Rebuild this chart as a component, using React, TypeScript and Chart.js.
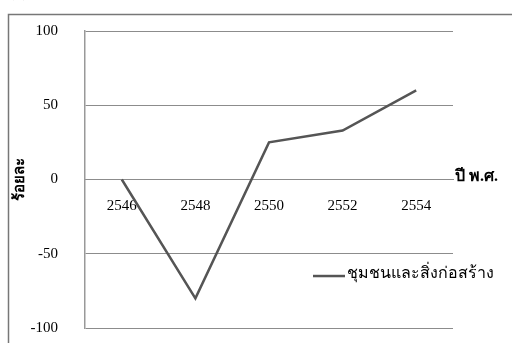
import React, { useEffect, useRef } from "react";
import { Chart, registerables } from "chart.js";

Chart.register(...registerables);

const categories = ["2546", "2548", "2550", "2552", "2554"];
const seriesValues = [0, -80, 25, 33, 60];
const seriesLabel = "ชุมชนและสิ่งก่อสร้าง";
const yTitle = "ร้อยละ";
const xTitle = "ปี พ.ศ.";
const panelLabel = "(ก)";
const yMin = -100;
const yMax = 100;
const yStep = 50;

const FONT = "'Liberation Serif', 'Times New Roman', serif";
const LINE_COLOR = "#555555";
const GRID_COLOR = "#8c8c8c";

const decorPlugin = {
  id: "decor",
  beforeDraw(chart: any) {
    const ctx = chart.ctx;
    ctx.save();
    ctx.fillStyle = "#ffffff";
    ctx.fillRect(0, 0, chart.width, chart.height);
    ctx.strokeStyle = "#777777";
    ctx.lineWidth = 1.5;
    ctx.strokeRect(8.5, 14.5, 700, 500);
    ctx.fillStyle = "#000000";
    ctx.font = `15px ${FONT}`;
    ctx.textBaseline = "alphabetic";
    ctx.textAlign = "left";
    ctx.fillText(panelLabel, 9, -3);
    ctx.restore();
  },
  afterDraw(chart: any) {
    const ctx = chart.ctx;
    const y = chart.scales.y;
    const area = chart.chartArea;
    ctx.save();
    ctx.fillStyle = "#000000";
    ctx.font = `bold 16px ${FONT}`;
    ctx.textAlign = "left";
    ctx.textBaseline = "middle";
    ctx.fillText(xTitle, area.right + 2, y.getPixelForValue(0) - 3);
    const ds = chart.data.datasets[0];
    const ly = y.getPixelForValue(-65);
    ctx.strokeStyle = ds.borderColor;
    ctx.lineWidth = 2.5;
    ctx.beginPath();
    ctx.moveTo(313, ly);
    ctx.lineTo(345, ly);
    ctx.stroke();
    ctx.font = `16px ${FONT}`;
    ctx.fillText(ds.label, 347, ly - 2);
    ctx.restore();
  },
};

export default function App() {
  const ref = useRef<HTMLCanvasElement | null>(null);

  useEffect(() => {
    document.body.style.margin = "0";
    const canvas = ref.current;
    if (!canvas) return;
    const chart = new Chart(canvas, {
      type: "line",
      data: {
        labels: categories,
        datasets: [
          {
            label: seriesLabel,
            data: seriesValues,
            borderColor: LINE_COLOR,
            backgroundColor: LINE_COLOR,
            borderWidth: 2.5,
            pointRadius: 0,
            tension: 0,
          },
        ],
      },
      options: {
        animation: false,
        responsive: false,
        maintainAspectRatio: false,
        layout: { padding: { left: 0, top: 31, right: 59, bottom: 15 } },
        plugins: {
          legend: { display: false },
          tooltip: { enabled: false },
        },
        scales: {
          x: {
            type: "category",
            position: { y: 0 } as any,
            offset: true,
            afterFit(scale: any) {
              scale.height = 0;
              scale.paddingTop = 0;
              scale.paddingBottom = 0;
              scale.paddingLeft = 0;
              scale.paddingRight = 0;
            },
            grid: { display: false, drawTicks: false },
            border: { display: true, color: GRID_COLOR, width: 1 },
            ticks: {
              color: "#000000",
              font: { family: FONT, size: 15 },
              padding: 18,
              maxRotation: 0,
              autoSkip: false,
            },
          },
          y: {
            min: yMin,
            max: yMax,
            afterFit(scale: any) {
              scale.width = 85;
              scale.paddingTop = 0;
              scale.paddingBottom = 0;
            },
            grid: { color: GRID_COLOR, lineWidth: 1, drawTicks: false },
            border: { display: true, color: "#999999", width: 1.5 },
            ticks: {
              stepSize: yStep,
              color: "#000000",
              font: { family: FONT, size: 15 },
              padding: 27,
            },
            title: {
              display: true,
              text: yTitle,
              color: "#000000",
              font: { family: FONT, size: 15, weight: "bold" },
              padding: { top: 11, bottom: 0 },
            },
          },
        },
      },
      plugins: [decorPlugin],
    });
    return () => chart.destroy();
  }, []);

  return (
    <div style={{ width: 512, height: 343, overflow: "hidden" }}>
      <canvas ref={ref} width={512} height={343} style={{ display: "block" }} />
    </div>
  );
}
